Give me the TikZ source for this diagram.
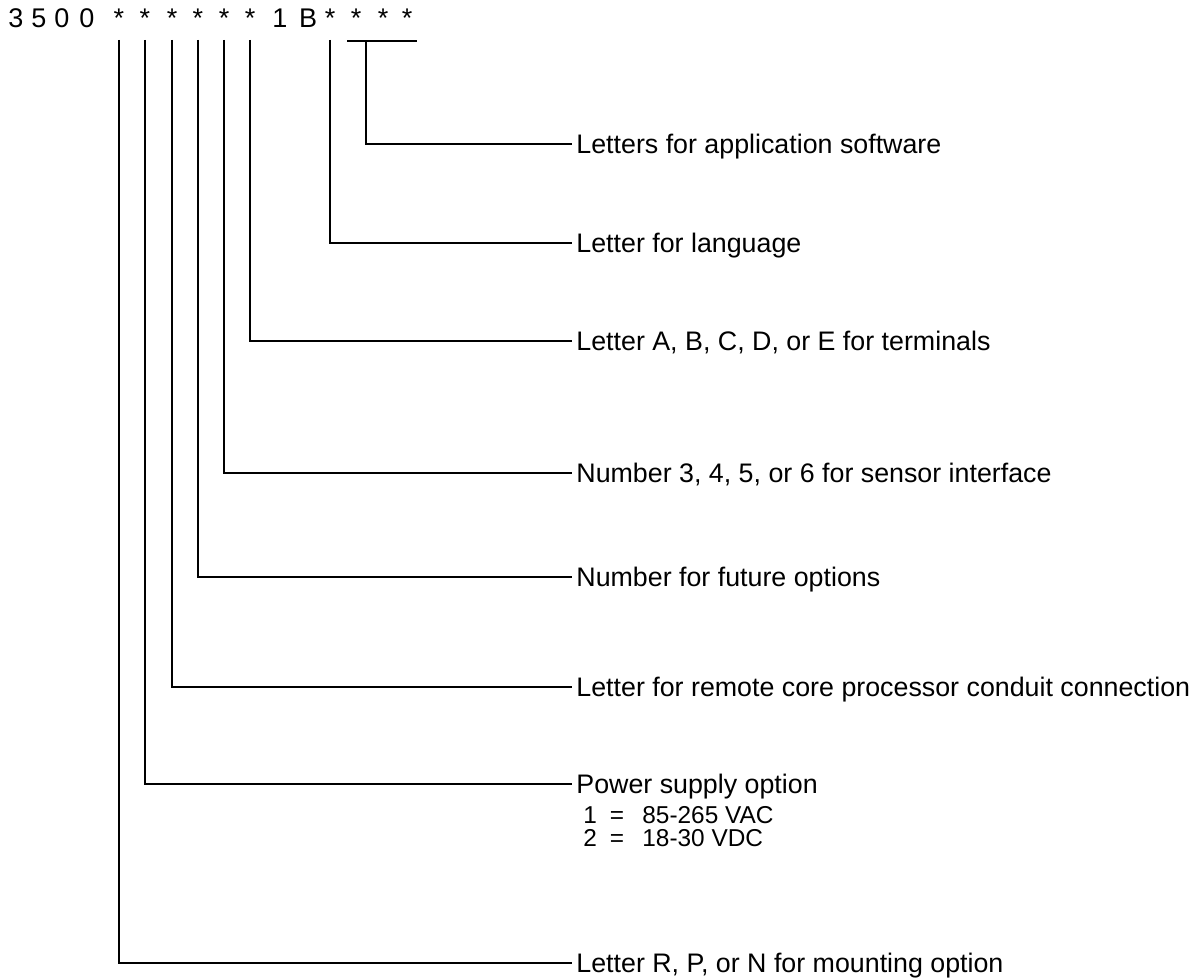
\documentclass[tikz,border=0pt]{standalone}
\usepackage{fontspec}
\setmainfont{Liberation Sans}
\usetikzlibrary{positioning}
\begin{document}
\begin{tikzpicture}[x=0.5pt,y=-0.5pt,
    code/.style = {anchor=base, inner sep=0pt, font=\fontsize{13.5}{15}\selectfont},
    desc/.style = {anchor=west, inner sep=2pt, text height=9.6pt, text depth=0pt, font=\fontsize{13.4}{15}\selectfont},
    opt/.style = {inner sep=0pt, text height=8.7pt, text depth=0pt, font=\fontsize{12.2}{14}\selectfont},
    lead/.style = {line width=1pt}]
    \useasboundingbox (0,0) rectangle (1202,979);
    % model number
    \foreach \x/\c/\n in {16/3/d1, 39/5/d2, 62/0/d3, 87/0/d4, 280/1/d5, 308/B/d6}
        \node[code] (\n) at (\x,28) {\c};
    \foreach \x [count=\i] in {119,145,172,198,224,250,330,356,383,407}
        \node[code] (s\i) at (\x,28) {*};
    \coordinate (top) at (0,40);
    \coordinate (barl) at (347,41);
    \coordinate (barr) at (417,41);
    \coordinate (barm) at (366,41);
    % descriptions
    \node[desc] (lsoft) at (572,144) {Letters for application software};
    \node[desc] (llang) at (572,243) {Letter for language};
    \node[desc] (lterm) at (572,341) {Letter A, B, C, D, or E for terminals};
    \node[desc] (lsens) at (572,473) {Number 3, 4, 5, or 6 for sensor interface};
    \node[desc] (lfut) at (572,577) {Number for future options};
    \node[desc] (lcond) at (572,687) {Letter for remote core processor conduit connection};
    \node[desc] (lpow) at (572,784) {Power supply option};
    \node[desc] (lmount) at (572,963) {Letter R, P, or N for mounting option};
    % power supply values
    \node[opt, anchor=base west] (n1) at (583,823) {1};
    \node[opt, anchor=base] (e1) at (617,823) {=};
    \node[opt, anchor=base west] (v1) at (642,823) {85-265 VAC};
    \node[opt, anchor=base west] (n2) at (583,846) {2};
    \node[opt, anchor=base] (e2) at (617,846) {=};
    \node[opt, anchor=base west] (v2) at (642,846) {18-30 VDC};
    % leaders
    \draw[lead] (s1 |- top) |- (lmount.west);
    \draw[lead] (s2 |- top) |- (lpow.west);
    \draw[lead] (s3 |- top) |- (lcond.west);
    \draw[lead] (s4 |- top) |- (lfut.west);
    \draw[lead] (s5 |- top) |- (lsens.west);
    \draw[lead] (s6 |- top) |- (lterm.west);
    \draw[lead] (s7 |- top) |- (llang.west);
    \draw[lead] (barl) -- (barr);
    \draw[lead] (barm) |- (lsoft.west);
\end{tikzpicture}
\end{document}
